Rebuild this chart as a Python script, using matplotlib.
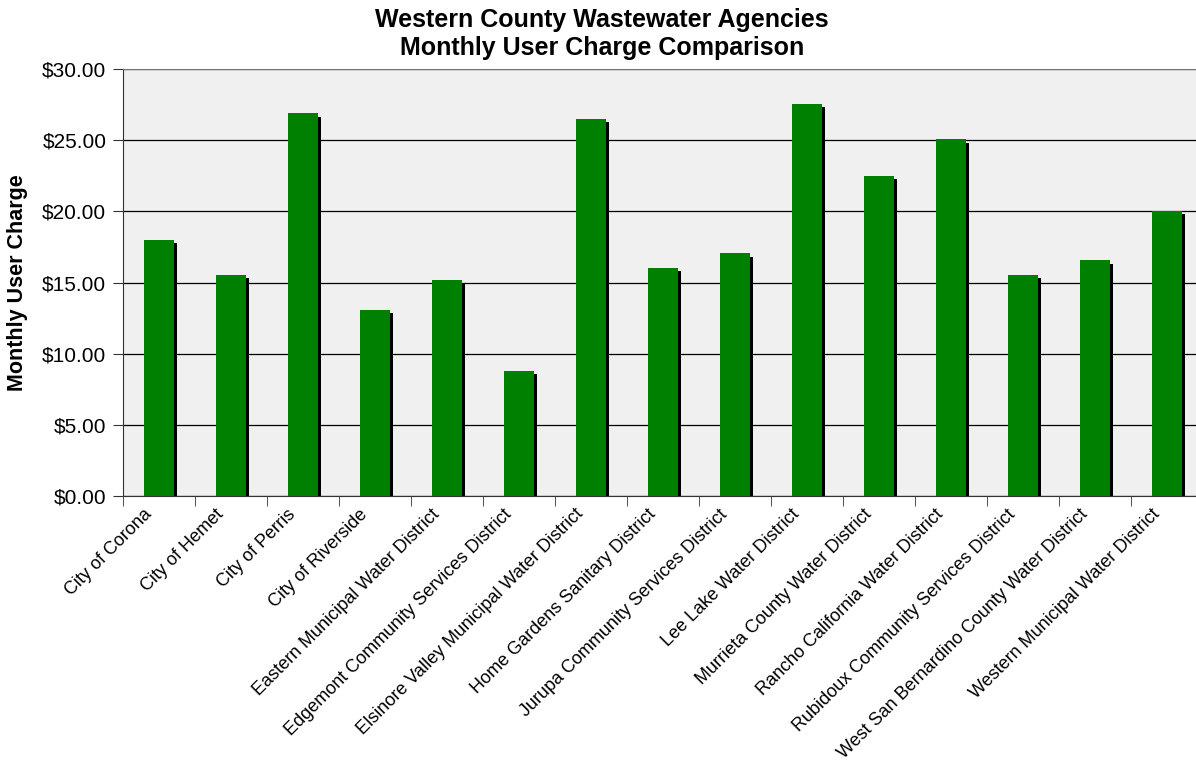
import numpy as np
import matplotlib
matplotlib.use("Agg")
import matplotlib.pyplot as plt
from matplotlib.transforms import ScaledTranslation
from matplotlib.ticker import FuncFormatter, MultipleLocator

agencies = [
    "City of Corona",
    "City of Hemet",
    "City of Perris",
    "City of Riverside",
    "Eastern Municipal Water District",
    "Edgemont Community Services District",
    "Elsinore Valley Municipal Water District",
    "Home Gardens Sanitary District",
    "Jurupa Community Services District",
    "Lee Lake Water District",
    "Murrieta County Water District",
    "Rancho California Water District",
    "Rubidoux Community Services District",
    "West San Bernardino County Water District",
    "Western Municipal Water District",
]
monthly_charge = [18.00, 15.55, 26.90, 13.10, 15.20, 8.80, 26.50, 16.05,
                  17.05, 27.55, 22.50, 25.05, 15.55, 16.55, 20.05]

plt.rcParams['font.family'] = ['Liberation Sans', 'DejaVu Sans']

W, H = 1196, 764
fig = plt.figure(figsize=(W / 100, H / 100), dpi=100)
# plot area (in pixels): left 123, top 69, bottom 496, 72 px per category
ax = fig.add_axes([123 / W, (H - 496) / H, 1080 / W, 427 / H])
ax.set_facecolor('#f0f0f0')

x = np.arange(len(agencies))
width = 0.42

# drop shadow behind each bar
shadow_tf = ax.transData + ScaledTranslation(3 / 100, -3.5 / 100, fig.dpi_scale_trans)
ax.bar(x, monthly_charge, width=width, color='black', zorder=2,
       transform=shadow_tf)
ax.bar(x, monthly_charge, width=width, color='#008000', zorder=3)

ax.set_xlim(-0.5, len(agencies) - 0.5)
ax.set_ylim(0, 30)
ax.yaxis.set_major_locator(MultipleLocator(5))
ax.yaxis.set_major_formatter(FuncFormatter(lambda v, p: f"${v:,.2f}"))
ax.grid(axis='y', color='black', linewidth=0.9, zorder=1)
ax.set_axisbelow(True)

# slanted labels anchored slightly left of each bar centre (invisible major ticks)
ax.set_xticks(x - 0.22)
ax.set_xticklabels(agencies, rotation=45, ha='right', va='top',
                   rotation_mode='anchor', fontsize=13)
ax.set_xticks(np.arange(len(agencies) + 1) - 0.5, minor=True)
ax.tick_params(axis='x', which='major', length=0, pad=7)
ax.tick_params(axis='x', which='minor', length=7, color='#333333')
ax.tick_params(axis='y', length=7, color='#333333', labelsize=15, pad=5)

ax.spines['right'].set_visible(False)
ax.spines['top'].set_color('#777777')
ax.spines['left'].set_color('#333333')
ax.spines['bottom'].set_color('#333333')

fig.text(18 / W, 1 - 283 / H, "Monthly User Charge", rotation=90,
         ha='center', va='center', fontsize=15.5, fontweight='bold')

fig.text(602 / W, 1 - 27 / H, "Western County Wastewater Agencies",
         ha='center', va='baseline', fontsize=18, fontweight='bold')
fig.text(602 / W, 1 - 55 / H, "Monthly User Charge Comparison",
         ha='center', va='baseline', fontsize=18, fontweight='bold')

fig.savefig("out.png", dpi=100)
